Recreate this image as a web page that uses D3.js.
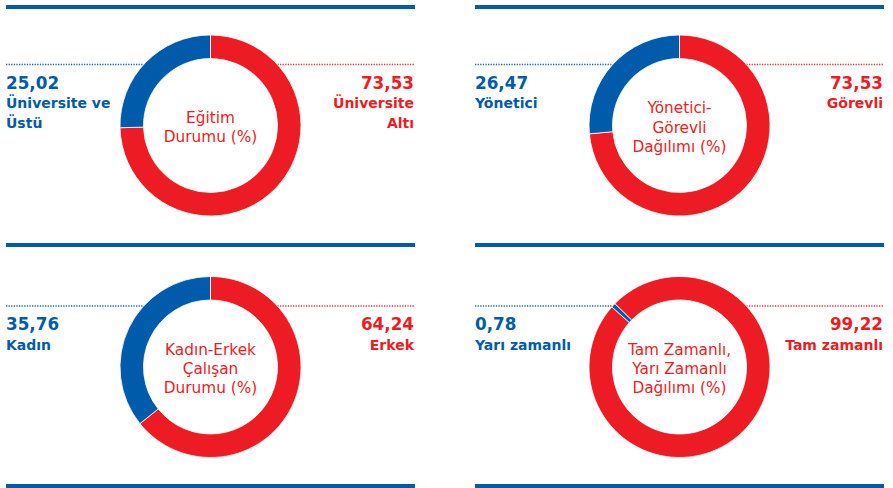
<!DOCTYPE html>
<html>
<head>
<meta charset="utf-8">
<script src="https://cdn.jsdelivr.net/npm/d3@7"></script>
<style>
  body { margin: 0; background: #fff; }
  svg text { font-family: "DejaVu Sans", sans-serif; }
</style>
</head>
<body>
<div id="chart"></div>
<script>
// values
var titles = [
  ["Eğitim", "Durumu (%)"],
  ["Yönetici-", "Görevli", "Dağılımı (%)"],
  ["Kadın-Erkek", "Çalışan", "Durumu (%)"],
  ["Tam Zamanlı,", "Yarı Zamanlı", "Dağılımı (%)"]
]
var blueValues = [25.02, 26.47, 35.76, 0.78]
var redValues = [73.53, 73.53, 64.24, 99.22]
var blueLabels = [["Üniversite ve", "Üstü"], ["Yönetici"], ["Kadın"], ["Yarı zamanlı"]]
var redLabels = [["Üniversite", "Altı"], ["Görevli"], ["Erkek"], ["Tam zamanlı"]]

var blue = "#005baa", red = "#ed1c24"
var width = 893, height = 488

// layout of the 2x2 grid
var cols = [{ x0: 6, x1: 415 }, { x0: 475, x1: 884 }]
var rows = [{ top: 7, cy: 125.5 }, { top: 245, cy: 367 }]
var bottomRule = 486
var outerR = 90.5, innerR = 67
var rotation = [0, 0, 0, -45.6]   // degrees, start of the red slice

var fmt = function (v) { return d3.format(".2f")(v).replace(".", ","); }

var svg = d3.select("#chart")
  .append("svg")
  .attr("width", width)
  .attr("height", height)

var arc = d3.arc().innerRadius(innerR).outerRadius(outerR)

// horizontal rules
var ruleYs = [rows[0].top, rows[1].top, bottomRule]
cols.forEach(function (c) {
  svg.selectAll(null)
    .data(ruleYs)
    .enter()
    .append("line")
    .attr("x1", c.x0)
    .attr("x2", c.x1)
    .attr("y1", function (d) { return d; })
    .attr("y2", function (d) { return d; })
    .attr("stroke", blue)
    .attr("stroke-width", 4)
})

titles.forEach(function (title, i) {
  var c = cols[i % 2], r = rows[Math.floor(i / 2)]
  var cx = (c.x0 + c.x1) / 2, cy = r.cy
  var lineY = cy - 61
  var edge = Math.sqrt(outerR * outerR - (cy - lineY) * (cy - lineY))

  var g = svg.append("g")

  // dotted leader lines
  g.append("line")
    .attr("x1", c.x0).attr("x2", cx - edge)
    .attr("y1", lineY).attr("y2", lineY)
    .attr("stroke", blue).attr("stroke-opacity", 0.9)
    .attr("stroke-width", 1.3)
    .attr("stroke-dasharray", "1.3,1.3")
  g.append("line")
    .attr("x1", cx + edge).attr("x2", c.x1)
    .attr("y1", lineY).attr("y2", lineY)
    .attr("stroke", red).attr("stroke-opacity", 0.9)
    .attr("stroke-width", 1.3)
    .attr("stroke-dasharray", "1.3,1.3")

  // donut: red first clockwise from the start, blue closes the ring
  var start = rotation[i] * Math.PI / 180
  var pie = d3.pie()
    .sort(null)
    .value(function (d) { return d.v; })
    .startAngle(start)
    .endAngle(start + 2 * Math.PI)
  var slices = pie([{ v: redValues[i], c: red }, { v: blueValues[i], c: blue }])

  g.append("g")
    .attr("transform", "translate(" + cx + "," + cy + ")")
    .selectAll("path")
    .data(slices)
    .enter()
    .append("path")
    .attr("d", arc)
    .attr("fill", function (d) { return d.data.c; })
    .attr("stroke", "#fff")
    .attr("stroke-width", 0.8)

  // centre title
  var lh = 19.3
  var firstY = cy + 7 - (title.length - 1) * lh / 2
  g.append("text")
    .attr("text-anchor", "middle")
    .attr("fill", red)
    .style("font-size", "15.3px")
    .selectAll("tspan")
    .data(title)
    .enter()
    .append("tspan")
    .attr("x", cx)
    .attr("y", function (d, k) { return firstY + k * lh; })
    .text(function (d) { return d; })

  // left (blue) value + label
  var numY = lineY + 24
  var lt = g.append("text").attr("fill", blue).style("font-weight", "bold")
  lt.append("tspan").attr("x", c.x0).attr("y", numY)
    .style("font-size", "16.8px").text(fmt(blueValues[i]))
  blueLabels[i].forEach(function (s, k) {
    lt.append("tspan").attr("x", c.x0).attr("y", numY + 19.5 * (k + 1))
      .style("font-size", "14px").text(s)
  })

  // right (red) value + label
  var rt = g.append("text").attr("fill", red).style("font-weight", "bold")
    .attr("text-anchor", "end")
  rt.append("tspan").attr("x", c.x1 - 1).attr("y", numY)
    .style("font-size", "16.8px").text(fmt(redValues[i]))
  redLabels[i].forEach(function (s, k) {
    rt.append("tspan").attr("x", c.x1 - 1).attr("y", numY + 19.5 * (k + 1))
      .style("font-size", "14px").text(s)
  })
})
</script>
</body>
</html>
